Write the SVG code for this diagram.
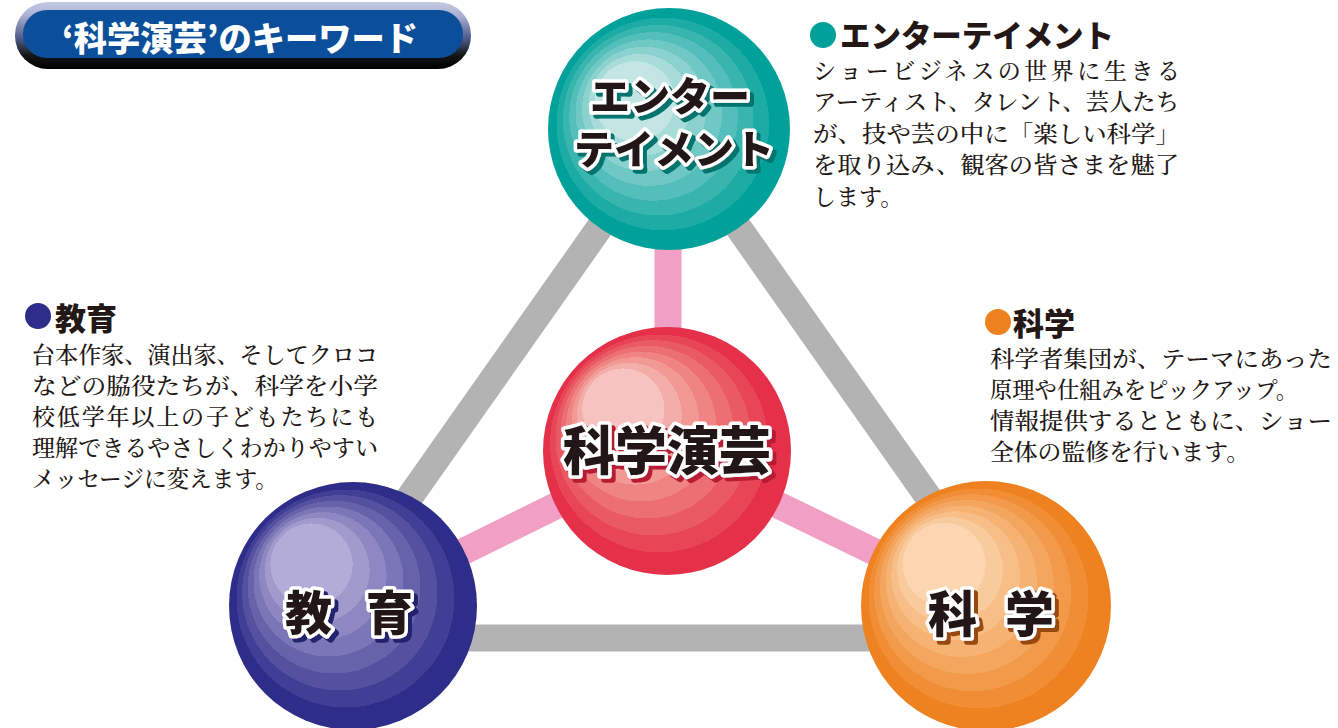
<svg xmlns="http://www.w3.org/2000/svg" width="1338" height="728" viewBox="0 0 1338 728">
<style>
.body{font-family:'Noto Serif CJK JP','Noto Sans CJK JP',sans-serif;font-size:23px;fill:#231815;font-weight:500}
.head{font-family:'Noto Sans CJK JP',sans-serif;font-size:31px;font-weight:900;fill:#231815}
.lbl{font-family:'Noto Sans CJK JP',sans-serif;font-weight:900;fill:#231815;stroke:#fff;stroke-width:7;stroke-linejoin:round;paint-order:stroke}
.gray{stroke:#b3b3b3;stroke-width:27;fill:none}
.pink{stroke:#f29fc5;stroke-width:27;fill:none}
</style>
<defs>
<filter id="shTeal" x="-10%" y="-20%" width="130%" height="150%"><feOffset in="SourceAlpha" dx="4" dy="4" result="o"/><feFlood flood-color="#00756f"/><feComposite in2="o" operator="in" result="s"/><feMerge><feMergeNode in="s"/><feMergeNode in="SourceGraphic"/></feMerge></filter>
<filter id="shRed" x="-10%" y="-20%" width="130%" height="150%"><feOffset in="SourceAlpha" dx="4" dy="4" result="o"/><feFlood flood-color="#b81e36"/><feComposite in2="o" operator="in" result="s"/><feMerge><feMergeNode in="s"/><feMergeNode in="SourceGraphic"/></feMerge></filter>
<filter id="shNavy" x="-10%" y="-20%" width="130%" height="150%"><feOffset in="SourceAlpha" dx="4" dy="4" result="o"/><feFlood flood-color="#24226e"/><feComposite in2="o" operator="in" result="s"/><feMerge><feMergeNode in="s"/><feMergeNode in="SourceGraphic"/></feMerge></filter>
<filter id="shOrange" x="-10%" y="-20%" width="130%" height="150%"><feOffset in="SourceAlpha" dx="4" dy="4" result="o"/><feFlood flood-color="#9a4a10"/><feComposite in2="o" operator="in" result="s"/><feMerge><feMergeNode in="s"/><feMergeNode in="SourceGraphic"/></feMerge></filter>
<linearGradient id="bannerG" x1="0" y1="0" x2="0" y2="1">
<stop offset="0" stop-color="#c5cbe3"/><stop offset="0.2" stop-color="#a9b1d3"/><stop offset="0.55" stop-color="#4d5a88"/><stop offset="0.8" stop-color="#151515"/><stop offset="1" stop-color="#000"/>
</linearGradient>
<radialGradient id="gTeal" cx="0.5" cy="0.5" r="0.5" fx="0.34" fy="0.37" fr="0.12">
<stop offset="0" stop-color="#c3e6e4"/><stop offset="0.12" stop-color="#c3e6e4"/>
<stop offset="0.12" stop-color="#a7dcd9"/><stop offset="0.24" stop-color="#a7dcd9"/>
<stop offset="0.24" stop-color="#8bd2cf"/><stop offset="0.36" stop-color="#8bd2cf"/>
<stop offset="0.36" stop-color="#6fc8c4"/><stop offset="0.48" stop-color="#6fc8c4"/>
<stop offset="0.48" stop-color="#54bfba"/><stop offset="0.6" stop-color="#54bfba"/>
<stop offset="0.6" stop-color="#38b5af"/><stop offset="0.72" stop-color="#38b5af"/>
<stop offset="0.72" stop-color="#1caba5"/><stop offset="0.84" stop-color="#1caba5"/>
<stop offset="0.84" stop-color="#00a19a"/><stop offset="1" stop-color="#00a19a"/>
</radialGradient>
<radialGradient id="gRed" cx="0.5" cy="0.5" r="0.5" fx="0.30" fy="0.31" fr="0.12">
<stop offset="0" stop-color="#f7c3c0"/><stop offset="0.12" stop-color="#f7c3c0"/>
<stop offset="0.12" stop-color="#f4aeaa"/><stop offset="0.24" stop-color="#f4aeaa"/>
<stop offset="0.24" stop-color="#f29994"/><stop offset="0.36" stop-color="#f29994"/>
<stop offset="0.36" stop-color="#ef8482"/><stop offset="0.48" stop-color="#ef8482"/>
<stop offset="0.48" stop-color="#ed6f72"/><stop offset="0.6" stop-color="#ed6f72"/>
<stop offset="0.6" stop-color="#ea5a64"/><stop offset="0.72" stop-color="#ea5a64"/>
<stop offset="0.72" stop-color="#e84557"/><stop offset="0.84" stop-color="#e84557"/>
<stop offset="0.84" stop-color="#e5304a"/><stop offset="1" stop-color="#e5304a"/>
</radialGradient>
<radialGradient id="gNavy" cx="0.5" cy="0.5" r="0.5" fx="0.31" fy="0.31" fr="0.12">
<stop offset="0" stop-color="#b4acd8"/><stop offset="0.12" stop-color="#b4acd8"/>
<stop offset="0.12" stop-color="#a19acd"/><stop offset="0.24" stop-color="#a19acd"/>
<stop offset="0.24" stop-color="#8e88c2"/><stop offset="0.36" stop-color="#8e88c2"/>
<stop offset="0.36" stop-color="#7b76b7"/><stop offset="0.48" stop-color="#7b76b7"/>
<stop offset="0.48" stop-color="#6763ab"/><stop offset="0.6" stop-color="#6763ab"/>
<stop offset="0.6" stop-color="#5451a0"/><stop offset="0.72" stop-color="#5451a0"/>
<stop offset="0.72" stop-color="#413f95"/><stop offset="0.84" stop-color="#413f95"/>
<stop offset="0.84" stop-color="#2e2d8a"/><stop offset="1" stop-color="#2e2d8a"/>
</radialGradient>
<radialGradient id="gOrange" cx="0.5" cy="0.5" r="0.5" fx="0.31" fy="0.31" fr="0.12">
<stop offset="0" stop-color="#fbd6b0"/><stop offset="0.12" stop-color="#fbd6b0"/>
<stop offset="0.12" stop-color="#f9ca9b"/><stop offset="0.24" stop-color="#f9ca9b"/>
<stop offset="0.24" stop-color="#f8be87"/><stop offset="0.36" stop-color="#f8be87"/>
<stop offset="0.36" stop-color="#f6b272"/><stop offset="0.48" stop-color="#f6b272"/>
<stop offset="0.48" stop-color="#f4a65e"/><stop offset="0.6" stop-color="#f4a65e"/>
<stop offset="0.6" stop-color="#f29a49"/><stop offset="0.72" stop-color="#f29a49"/>
<stop offset="0.72" stop-color="#f18e35"/><stop offset="0.84" stop-color="#f18e35"/>
<stop offset="0.84" stop-color="#ef8220"/><stop offset="1" stop-color="#ef8220"/>
</radialGradient>
</defs>
<rect width="1338" height="728" fill="#fff"/>

<g id="title">
<rect x="15" y="2" width="456" height="67" rx="33" fill="url(#bannerG)"/>
<rect x="23" y="10" width="440" height="48" rx="24" fill="#0b4f9b"/>
<text x="62" y="51" font-family="'Noto Sans CJK JP',sans-serif" font-weight="900" font-size="34" fill="#fff" textLength="356" lengthAdjust="spacingAndGlyphs">‘科学演芸’のキーワード</text>
</g>

<g id="connectors">
<line class="gray" x1="669" y1="129" x2="333" y2="606"/>
<line class="gray" x1="669" y1="129" x2="1005" y2="606"/>
<line class="gray" x1="353" y1="638" x2="986" y2="638"/>
<line class="pink" x1="668" y1="129" x2="668" y2="451"/>
<line class="pink" x1="667" y1="451" x2="353" y2="606"/>
<line class="pink" x1="667" y1="451" x2="986" y2="606"/>
</g>

<g id="node-entertainment">
<circle cx="669" cy="129" r="121" fill="url(#gTeal)"/>
<g font-size="40" text-anchor="middle" filter="url(#shTeal)">
<text class="lbl" x="670" y="111">エンター</text>
<text class="lbl" x="674" y="164">テイメント</text>
</g>
</g>

<g id="node-center">
<circle cx="667" cy="451" r="124" fill="url(#gRed)"/>
<text class="lbl" x="667" y="470" font-size="52" text-anchor="middle" filter="url(#shRed)">科学演芸</text>
</g>

<g id="node-education">
<circle cx="353" cy="606" r="124" fill="url(#gNavy)"/>
<text class="lbl" x="285 332 366" y="630" font-size="47" filter="url(#shNavy)">教 育</text>
</g>

<g id="node-science">
<circle cx="986" cy="606" r="125" fill="url(#gOrange)"/>
<text class="lbl" x="928 976 1005" y="632" font-size="49" filter="url(#shOrange)">科 学</text>
</g>

<g id="desc-entertainment">
<circle cx="823" cy="35" r="13" fill="#00a19a"/>
<text class="head" x="840" y="47" textLength="274" lengthAdjust="spacingAndGlyphs">エンターテイメント</text>
<text class="body" x="813" y="79" textLength="367" lengthAdjust="spacing">ショービジネスの世界に生きる</text>
<text class="body" x="813" y="110" textLength="366" lengthAdjust="spacingAndGlyphs">アーティスト、タレント、芸人たち</text>
<text class="body" x="813" y="142" textLength="367" lengthAdjust="spacingAndGlyphs">が、技や芸の中に「楽しい科学」</text>
<text class="body" x="813" y="173" textLength="366" lengthAdjust="spacingAndGlyphs">を取り込み、観客の皆さまを魅了</text>
<text class="body" x="813" y="205">します。</text>
</g>

<g id="desc-education">
<circle cx="38" cy="316" r="13" fill="#2e2d8a"/>
<text class="head" x="55" y="330">教育</text>
<text class="body" x="32" y="363" textLength="346" lengthAdjust="spacingAndGlyphs">台本作家、演出家、そしてクロコ</text>
<text class="body" x="32" y="394" textLength="346" lengthAdjust="spacingAndGlyphs">などの脇役たちが、科学を小学</text>
<text class="body" x="32" y="425" textLength="346" lengthAdjust="spacing">校低学年以上の子どもたちにも</text>
<text class="body" x="32" y="456" textLength="346" lengthAdjust="spacingAndGlyphs">理解できるやさしくわかりやすい</text>
<text class="body" x="32" y="487" textLength="246" lengthAdjust="spacingAndGlyphs">メッセージに変えます。</text>
</g>

<g id="desc-science">
<circle cx="998" cy="322" r="13" fill="#ef8220"/>
<text class="head" x="1013" y="335">科学</text>
<text class="body" x="990" y="367" textLength="342" lengthAdjust="spacingAndGlyphs">科学者集団が、テーマにあった</text>
<text class="body" x="990" y="398" textLength="308" lengthAdjust="spacingAndGlyphs">原理や仕組みをピックアップ。</text>
<text class="body" x="990" y="429" textLength="342" lengthAdjust="spacingAndGlyphs">情報提供するとともに、ショー</text>
<text class="body" x="990" y="460" textLength="260" lengthAdjust="spacingAndGlyphs">全体の監修を行います。</text>
</g>
</svg>
